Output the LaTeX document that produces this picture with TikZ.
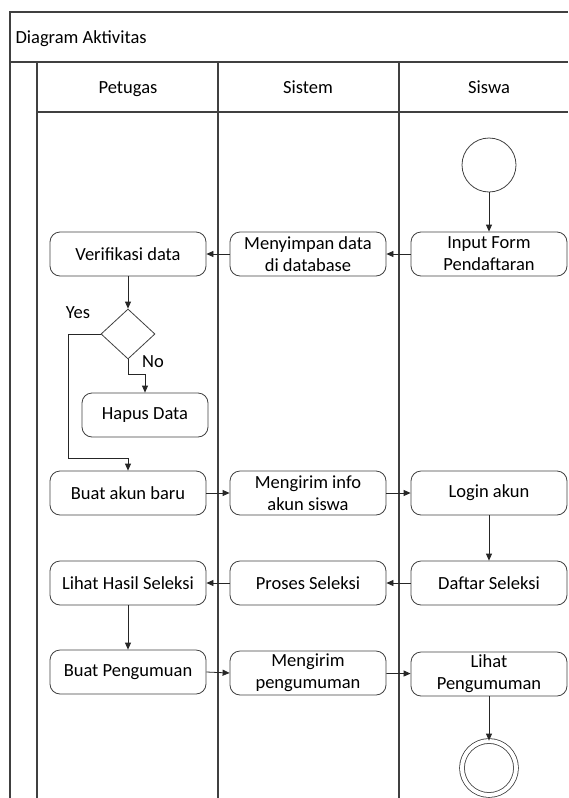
\documentclass[tikz,border=0pt]{standalone}
\usepackage{fontspec}
\setmainfont{Carlito}
\usetikzlibrary{shapes.geometric,arrows.meta}

\tikzset{
  activity/.style={draw=black!75, line width=0.8pt, rounded corners=10pt,
    minimum width=156pt, minimum height=44pt, align=center, inner sep=2pt},
  decision/.style={draw=black!75, line width=0.8pt, diamond, minimum width=54pt,
    minimum height=50pt, inner sep=0pt},
  startstate/.style={draw=black!75, line width=0.8pt, circle, minimum size=54pt,
    inner sep=0pt},
  endstate/.style={draw=black!75, line width=0.8pt, circle, minimum size=54pt,
    inner sep=0pt, double=white, double distance=4pt},
  flow/.style={draw=black!85, line width=0.8pt, -{Triangle[length=7pt,width=6pt]}},
  lane/.style={draw=black!75, line width=1.6pt},
}

\begin{document}
\begin{tikzpicture}[%
      x=1pt, y=-1pt,
      font=\fontsize{18.5}{22}\selectfont,
      ]
      \useasboundingbox (0,0) rectangle (568,798);
      % frame and swimlanes
      \draw [lane] (10,798) -- (10,12) -- (568,12);
      \draw [lane] (10,62) -- (568,62);
      \draw [lane] (37,112) -- (568,112);
      \draw [lane] (37,62) -- (37,798);
      \draw [lane] (218,62) -- (218,798);
      \draw [lane] (399,62) -- (399,798);
      \node [anchor=base west] (title) at (12,43) {Diagram Aktivitas};
      \node [anchor=base] (petugas) at (128,93) {Petugas};
      \node [anchor=base] (sistem) at (308,93) {Sistem};
      \node [anchor=base] (siswa) at (489,93) {Siswa};

      % activities
      \node [startstate] (start) at (489,165) {};
      \node [activity] (input) at (489,254) {Input Form\\Pendaftaran};
      \node [activity] (simpan) at (308,254) {Menyimpan data\\di database};
      \node [activity] (verif) at (128,254) {Verifikasi data};
      \node [decision] (cek) at (128,334) {};
      \node [activity, minimum width=126pt] (hapus) at (145,415) {Hapus Data};
      \node [activity] (akun) at (128,493) {Buat akun baru};
      \node [activity] (info) at (308,493) {Mengirim info\\akun siswa};
      \node [activity] (login) at (489,493) {Login akun};
      \node [activity] (daftar) at (489,583) {Daftar Seleksi};
      \node [activity] (proses) at (308,583) {Proses Seleksi};
      \node [activity] (hasil) at (128,583) {Lihat Hasil Seleksi};
      \node [activity] (buatumum) at (128,672) {Buat Pengumuan};
      \node [activity] (kirimumum) at (308,673) {Mengirim\\pengumuman};
      \node [activity] (lihatumum) at (489,674) {Lihat\\Pengumuman};
      \node [endstate] (stop) at (489,768) {};

      \coordinate (yesbend) at (68,458);
      \node (yes) at (78,313) {Yes};
      \node (no) at (153,362) {No};

      % flows
      \draw [flow] (start) -- (input);
      \draw [flow] (input) -- (simpan);
      \draw [flow] (simpan) -- (verif);
      \draw [flow] (verif) -- (cek);
      \draw [flow] (cek.south) -- ++(0,15) -| (hapus.north);
      \draw [flow] (cek.west) -| (yesbend) -| (akun.north);
      \draw [flow] (akun) -- (info);
      \draw [flow] (info) -- (login);
      \draw [flow] (login) -- (daftar);
      \draw [flow] (daftar) -- (proses);
      \draw [flow] (proses) -- (hasil);
      \draw [flow] (hasil) -- (buatumum);
      \draw [flow] (buatumum.east) -- (kirimumum.west);
      \draw [flow] (kirimumum) -- (lihatumum);
      \draw [flow] (lihatumum) -- (stop);
\end{tikzpicture}
\end{document}
